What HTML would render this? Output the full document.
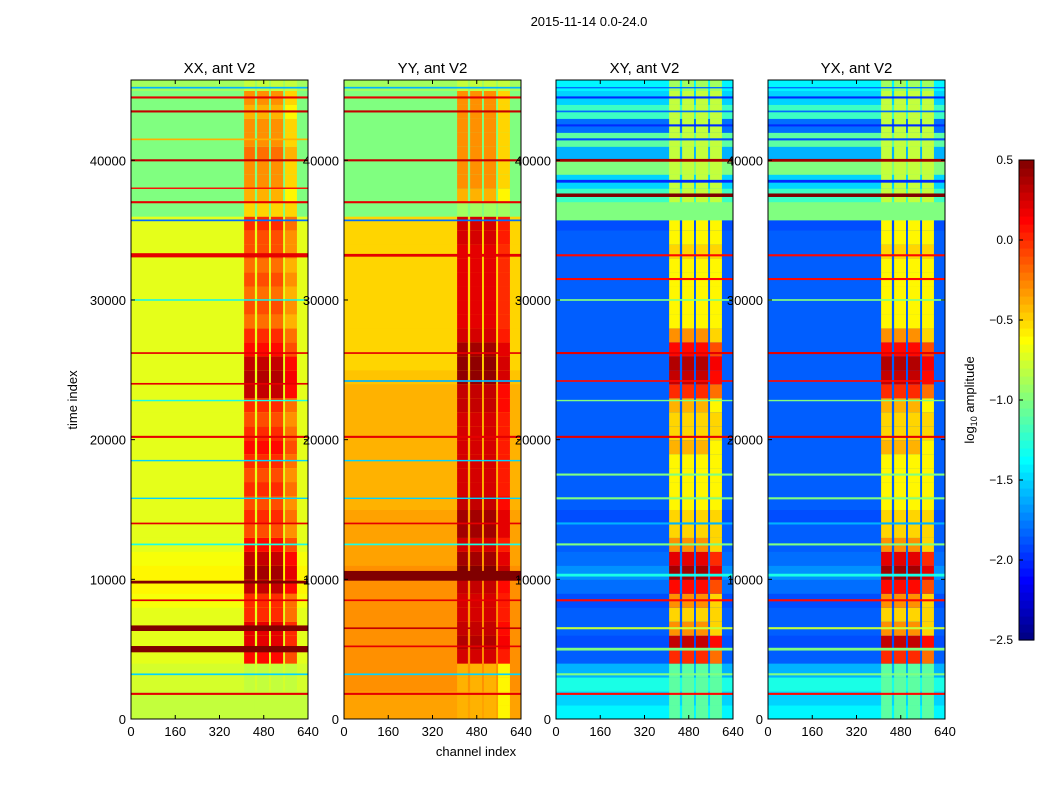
<!DOCTYPE html>
<html><head><meta charset="utf-8">
<style>
html,body{margin:0;padding:0;background:#fff;}
svg{display:block;font-family:"Liberation Sans",sans-serif;}
</style></head>
<body>
<svg id="fig" width="1050" height="800">
<text x="589" y="26" font-size="13" text-anchor="middle">2015-11-14 0.0-24.0</text>
<text x="476" y="756" font-size="13" text-anchor="middle">channel index</text>
<text transform="translate(77,400) rotate(-90)" font-size="13" text-anchor="middle">time index</text>
<text transform="translate(974,400) rotate(-90)" font-size="13" text-anchor="middle">log<tspan font-size="9" dy="3">10</tspan><tspan dy="-3"> amplitude</tspan></text>
</svg>
<script>
// ---- data ----
const panelTitles = ["XX, ant V2","YY, ant V2","XY, ant V2","YX, ant V2"];
const xTicks = [0,160,320,480,640];
const yTicks = [0,10000,20000,30000,40000];
const cbTicks = [0.5,0.0,-0.5,-1.0,-1.5,-2.0,-2.5];
const timeBinSize = 1000;
// background log amplitude per 1000-sample time bin (46 bins)
const bgXX = [-0.8,-0.8,-0.75,-0.75,-0.7,-0.7,-0.7,-0.7,-0.65,-0.6,-0.6,-0.65,-0.7,-0.7,-0.7,-0.7,-0.7,-0.7,-0.7,-0.7,-0.7,-0.7,-0.7,-0.7,-0.7,-0.7,-0.7,-0.7,-0.7,-0.7,-0.7,-0.7,-0.7,-0.7,-0.7,-0.7,-1.0,-1.0,-1.0,-1.0,-1.0,-1.0,-1.0,-1.0,-1.0,-0.9];
const bgYY = [-0.35,-0.35,-0.3,-0.3,-0.3,-0.3,-0.3,-0.3,-0.3,-0.3,-0.3,-0.35,-0.35,-0.35,-0.35,-0.4,-0.4,-0.4,-0.4,-0.4,-0.4,-0.4,-0.4,-0.4,-0.45,-0.5,-0.5,-0.5,-0.5,-0.5,-0.5,-0.5,-0.5,-0.5,-0.5,-0.5,-1.0,-1.0,-1.0,-1.0,-1.0,-1.0,-1.0,-1.0,-1.0,-0.9];
const bgXY = [-1.4,-1.5,-1.3,-1.6,-1.85,-1.9,-1.85,-1.85,-1.9,-1.8,-1.7,-1.8,-1.85,-1.85,-1.9,-1.85,-1.85,-1.85,-1.85,-1.85,-1.85,-1.85,-1.85,-1.85,-1.85,-1.85,-1.85,-1.85,-1.85,-1.85,-1.85,-1.85,-1.85,-1.85,-1.85,-1.9,-1.0,-1.2,-1.5,-1.0,-1.6,-1.1,-1.8,-1.2,-1.5,-1.4];
const bgYX = bgXY.slice();
// amplitude inside the bursty channel blocks per time bin
const hiXX = [-0.8,-0.8,-0.8,-0.8,0.1,0.2,0.2,0.0,0.0,0.3,0.4,0.3,0.1,-0.1,0.0,-0.1,0.0,-0.1,0.0,0.1,0.0,-0.1,0.0,0.3,0.35,0.3,0.1,0.0,-0.2,-0.1,-0.2,-0.1,-0.2,-0.1,-0.1,0.0,-0.5,-0.4,-0.3,-0.3,-0.2,-0.3,-0.3,-0.4,-0.3,-0.8];
const hiYY = [-0.4,-0.4,-0.4,-0.4,0.25,0.35,0.3,0.25,0.25,0.3,0.5,0.4,0.25,0.4,0.4,0.3,0.25,0.25,0.25,0.25,0.25,0.25,0.3,0.3,0.45,0.45,0.4,0.25,0.2,0.2,0.2,0.2,0.2,0.2,0.25,0.25,-0.9,-0.4,-0.3,-0.3,-0.3,-0.3,-0.3,-0.3,-0.3,-0.8];
const hiXY = [-1.1,-1.1,-1.1,-1.1,0.0,0.3,-0.3,-0.5,-0.3,0.1,0.4,0.2,-0.3,-0.5,-0.5,-0.6,-0.6,-0.6,-0.6,-0.4,-0.5,-0.5,-0.4,0.0,0.3,0.35,0.1,-0.3,-0.6,-0.6,-0.6,-0.6,-0.6,-0.5,-0.6,-0.6,-1.0,-0.8,-0.8,-0.8,-0.8,-0.8,-0.8,-0.8,-0.8,-0.9];
const hiYX = hiXY.slice();
// bursty channel blocks [start channel, end channel] and per-block gain offset
const burstCols = [[409,448],[456,499],[506,550],[557,600]];
const burstColGain = [0.0,0.0,0.0,-0.2];
// horizontal stripes [time, thickness, value]
const stripesXX = [[1800,150,0.2],[3200,120,-1.5],[5000,450,0.5],[6500,400,0.5],[8500,120,0.2],[9800,200,0.5],[12500,120,-1.3],[14000,120,0.2],[15800,100,-1.5],[18500,100,-1.5],[20200,150,0.2],[22800,100,-1.3],[24000,120,0.2],[26200,120,0.2],[30000,100,-1.4],[33200,300,0.2],[35700,120,-1.8],[37000,150,0.2],[38000,100,0.1],[40000,150,0.3],[41500,120,-0.4],[43500,150,0.3],[44500,150,0.2],[45200,120,-1.6]];
const stripesYY = [[1800,150,0.2],[3200,120,-1.5],[5200,120,0.2],[6500,120,0.3],[8500,120,0.2],[10250,700,0.5],[12500,120,-1.3],[14000,120,0.2],[15800,100,-1.5],[18500,100,-1.5],[20200,150,0.2],[24200,120,-1.6],[26200,120,0.2],[33200,200,0.2],[35700,120,-1.8],[37000,150,0.2],[40000,150,0.3],[43500,150,0.3],[44500,150,0.2],[45200,120,-1.6]];
const stripesXY = [[1800,150,0.1],[3200,150,-1.0],[5000,200,-1.0],[6500,150,-0.8],[8500,150,0.1],[10300,200,-1.3],[12500,150,-1.0],[14000,150,-1.6],[15800,150,-1.0],[17500,150,-1.0],[20200,150,0.2],[22800,100,-1.0],[24200,120,0.1],[26200,150,0.2],[30000,120,-1.0],[31500,150,0.1],[33200,150,0.1],[36350,1300,-1.0],[37500,250,0.5],[38500,200,-2.0],[40000,200,0.4],[41500,150,-1.9],[42500,150,-2.0],[43500,120,-1.8],[44500,150,-2.0],[45200,100,-1.8]];
const stripesYX = stripesXY.slice();
const panelBg = [bgXX,bgYY,bgXY,bgYX];
const panelHi = [hiXX,hiYY,hiXY,hiYX];
const panelStripes = [stripesXX,stripesYY,stripesXY,stripesYX];

// ---- layout ----
const NS="http://www.w3.org/2000/svg";
const svg=document.getElementById('fig');
const panelX=[131,344,556,768], panelW=177, plotTop=80, plotBottom=719;
const tMax=45750, cMax=640;
function yScale(t){return plotBottom-(t/tMax)*(plotBottom-plotTop);}
function xScale(px,c){return px+(c/cMax)*panelW;}
function jet(v){
  let t=Math.max(0,Math.min(1,(v+2.5)/3));
  const r=Math.max(0,Math.min(1,1.5-Math.abs(4*t-3)));
  const g=Math.max(0,Math.min(1,1.5-Math.abs(4*t-2)));
  const b=Math.max(0,Math.min(1,1.5-Math.abs(4*t-1)));
  return `rgb(${Math.round(r*255)},${Math.round(g*255)},${Math.round(b*255)})`;
}
function mk(tag,attrs){const e=document.createElementNS(NS,tag);for(const k in attrs)e.setAttribute(k,attrs[k]);svg.appendChild(e);return e;}
function txt(x,y,s,size,anchor){const e=mk('text',{x:x,y:y,'font-size':size,'text-anchor':anchor});e.textContent=s;return e;}

for(let p=0;p<4;p++){
  const px=panelX[p], bg=panelBg[p], hi=panelHi[p];
  for(let i=0;i<bg.length;i++){
    const t0=i*timeBinSize, t1=Math.min(tMax,(i+1)*timeBinSize);
    const y1=yScale(t1), y0=yScale(t0);
    const r=mk('rect',{x:px,y:y1,width:panelW,height:y0-y1+0.5,fill:jet(bg[i])});
    
    
    burstCols.forEach((bc,j)=>{
      const v = hi[i] > -0.5 ? hi[i]+burstColGain[j] : hi[i];
      const c=mk('rect',{x:xScale(px,bc[0]),y:y1,width:xScale(px,bc[1])-xScale(px,bc[0]),height:y0-y1+0.5,fill:jet(v)});
      
      
    });
  }
  for(const s of panelStripes[p]){
    const ya=yScale(s[0]+s[1]/2), yb=yScale(s[0]-s[1]/2);
    const r=mk('rect',{x:px,y:ya,width:panelW,height:Math.max(1,yb-ya),fill:jet(s[2])});
    
    
  }
  const fr=mk('rect',{x:px,y:plotTop,width:panelW,height:plotBottom-plotTop,fill:'none',stroke:'#000','stroke-width':1});
  
  
  const tt=txt(px+panelW/2,73,panelTitles[p],15,'middle');
  
  
  for(const xt of xTicks){
    const x=xScale(px,xt);
    mk('line',{x1:x,x2:x,y1:plotBottom,y2:plotBottom-4,stroke:'#000'});
    mk('line',{x1:x,x2:x,y1:plotTop,y2:plotTop+4,stroke:'#000'});
    const l=txt(x,736,String(xt),13,'middle');
    
    
  }
  for(const yt of yTicks){
    const y=yScale(yt);
    mk('line',{x1:px,x2:px+4,y1:y,y2:y,stroke:'#000'});
    mk('line',{x1:px+panelW,x2:px+panelW-4,y1:y,y2:y,stroke:'#000'});
    const l=txt(px-5,y+5,String(yt),13,'end');
    
    
  }
}
// colorbar
const cbX=1019,cbW=15,cbTop=160,cbBot=640;
const N=60;
for(let k=0;k<N;k++){
  const v=-2.5+3*(k+0.5)/N;
  const yb=cbBot-(k/N)*(cbBot-cbTop), ya=cbBot-((k+1)/N)*(cbBot-cbTop);
  const r=mk('rect',{x:cbX,y:ya,width:cbW,height:yb-ya+0.6,fill:jet(v)});
  
  
}
const cbf=mk('rect',{x:cbX,y:cbTop,width:cbW,height:cbBot-cbTop,fill:'none',stroke:'#000'});


for(const v of cbTicks){
  const y=cbBot-((v+2.5)/3)*(cbBot-cbTop);
  mk('line',{x1:cbX,x2:cbX+4,y1:y,y2:y,stroke:'#000'});
  const l=txt(1013,y+4,v.toFixed(1).replace('-','\u2212'),12,'end');
  
  
}
</script>
</body></html>
